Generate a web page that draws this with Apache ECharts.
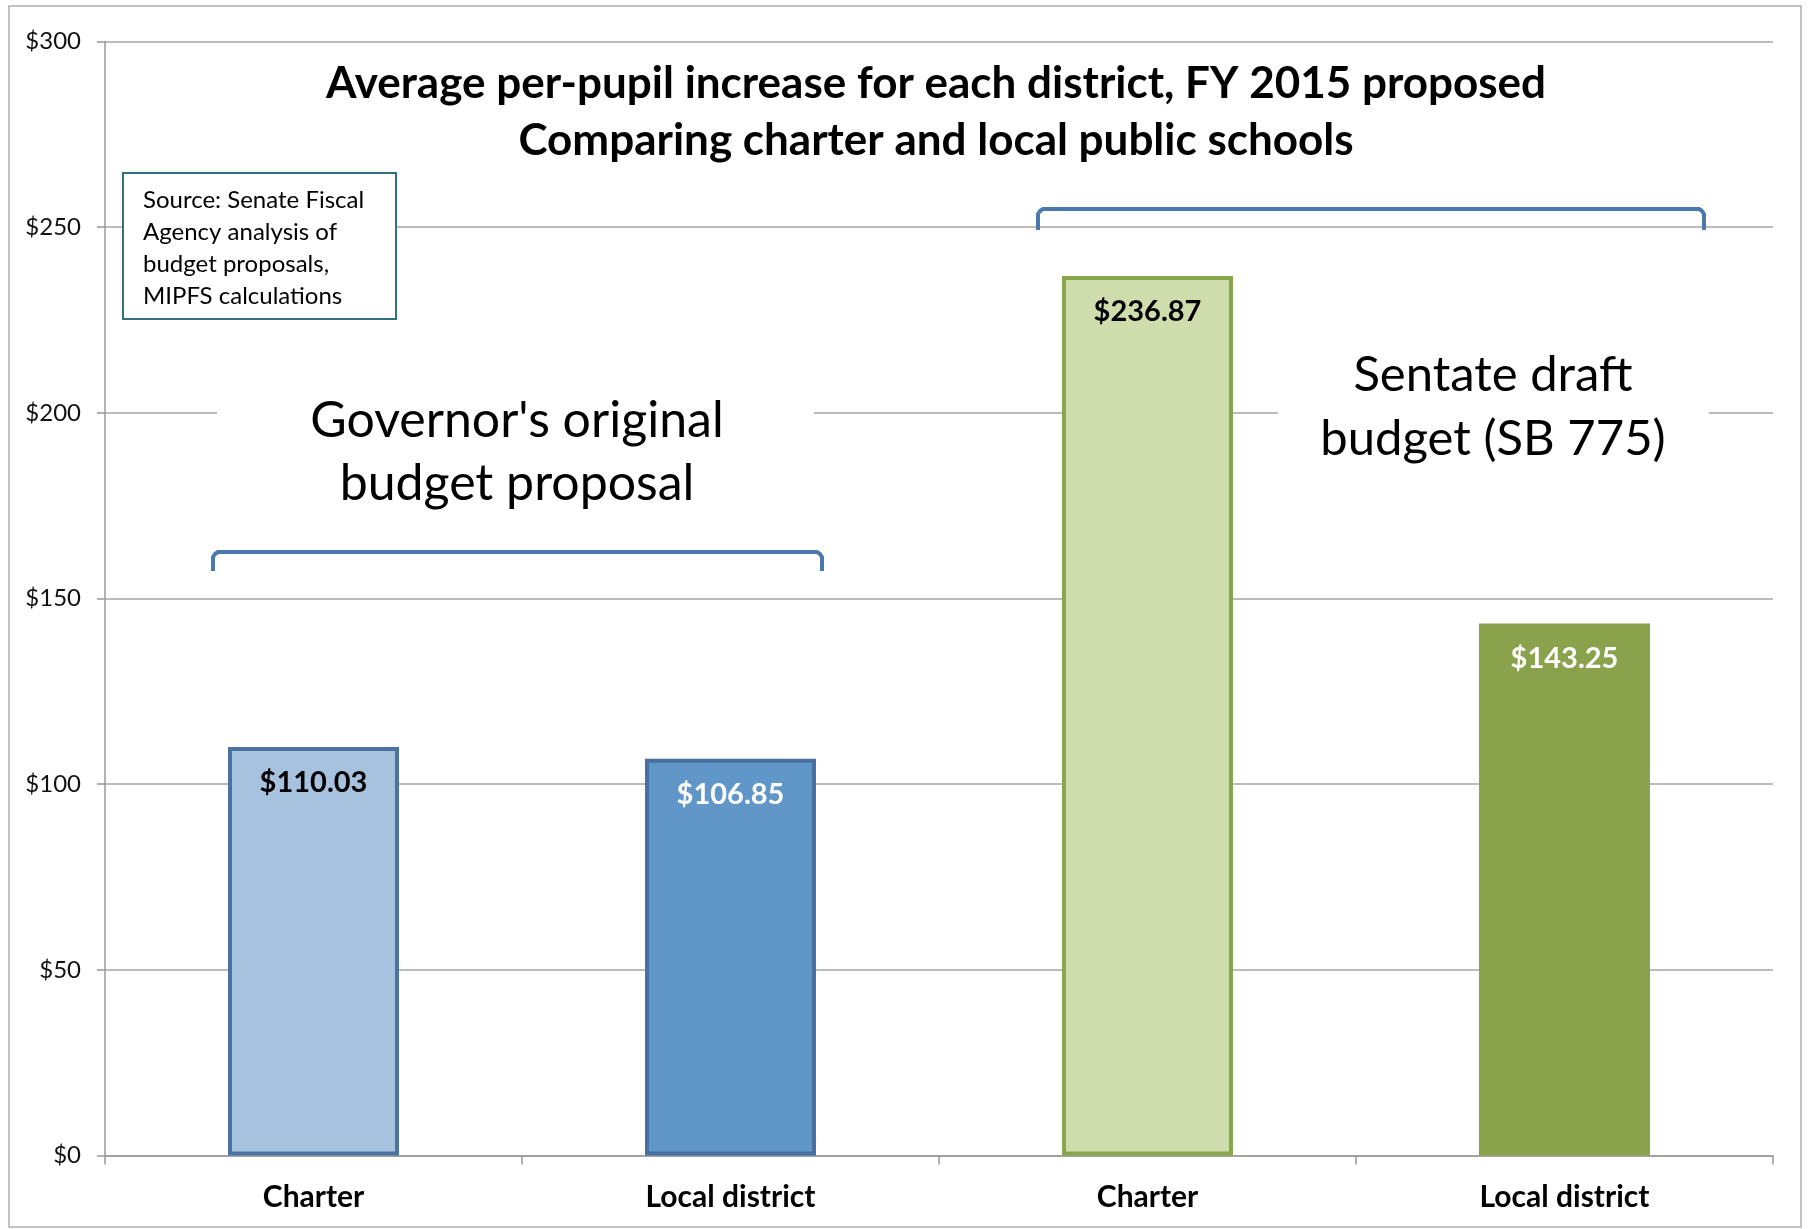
<!DOCTYPE html>
<html>
<head>
<meta charset="utf-8">
<script src="https://cdn.jsdelivr.net/npm/echarts@6/dist/echarts.min.js"></script>
<style>
  html, body { margin: 0; padding: 0; background: #fff; }
  #main { width: 1808px; height: 1229px; }
</style>
</head>
<body>
<div id="main"></div>
<script>
var categories = ["Charter", "Local district", "Charter", "Local district"];
var increases = [110.03, 106.85, 236.87, 143.25];
var yTicks = [0, 50, 100, 150, 200, 250, 300];

// bar colours (fill / outline), one per bar
var barFills = ["#a7c2df", "#6196c8", "#cfddac", "#8aa24c"];
var barBorders = ["#4a73a2", "#4671a1", "#8aa64c", "#8aa24c"];
var labelColors = ["#000", "#fff", "#000", "#fff"];

var chartDom = document.getElementById("main");
var myChart = echarts.init(chartDom);
var font = "Lato, 'Open Sans', sans-serif";

// bracket outline with small rounded-ish corners
function bracket(x0, x1, top, bottom) {
  return [[x0, bottom], [x0, top + 5], [x0 + 2, top + 2], [x0 + 5, top],
          [x1 - 5, top], [x1 - 2, top + 2], [x1, top + 5], [x1, bottom]];
}

var option = {
  animation: false,
  grid: { left: 105, right: 35, top: 41.5, bottom: 73.5 },
  xAxis: {
    type: "category",
    data: categories,
    axisLine: { lineStyle: { color: "#999", width: 1.5 } },
    axisTick: { show: true, length: 9, lineStyle: { color: "#999", width: 1.5 } },
    axisLabel: {
      margin: 27,
      fontFamily: font,
      fontWeight: "bold",
      fontSize: 30,
      color: "#000",
    },
  },
  yAxis: {
    type: "value",
    min: yTicks[0],
    max: yTicks[yTicks.length - 1],
    interval: 50,
    axisLine: { show: true, lineStyle: { color: "#999", width: 1.5 } },
    axisTick: { show: true, length: 8, lineStyle: { color: "#999", width: 1.5 } },
    splitLine: { lineStyle: { color: "#a6a6a6", width: 1.5 } },
    axisLabel: {
      margin: 24,
      fontFamily: font,
      fontSize: 24,
      color: "#111",
      formatter: function (v) { return "$" + v; },
    },
  },
  series: [
    {
      type: "bar",
      barWidth: "41%",
      data: increases.map(function (v, i) {
        return {
          value: v,
          itemStyle: {
            color: barFills[i],
            borderColor: barBorders[i],
            borderWidth: 4,
          },
          label: { color: labelColors[i] },
        };
      }),
      label: {
        show: true,
        position: "insideTop",
        distance: 21,
        fontFamily: font,
        fontWeight: "bold",
        fontSize: 29,
        formatter: function (p) { return "$" + p.value.toFixed(2); },
      },
    },
  ],
  graphic: [
    // outer chart border
    {
      type: "rect",
      shape: { x: 9, y: 6, width: 1792, height: 1221 },
      style: { fill: null, stroke: "#b0b0b0", lineWidth: 1.5 },
      silent: true,
      z: 0,
    },
    // title
    {
      type: "text",
      x: 936,
      y: 112,
      style: {
        text: "Average per-pupil increase for each district, FY 2015 proposed\nComparing charter and local public schools",
        font: "bold 44px " + font,
        fill: "#000",
        align: "center",
        verticalAlign: "middle",
        lineHeight: 57,
      },
      z: 100,
    },
    // source box
    {
      type: "rect",
      shape: { x: 123, y: 173, width: 273, height: 146 },
      style: { fill: "#fff", stroke: "#31707f", lineWidth: 2 },
      z: 100,
    },
    {
      type: "text",
      x: 143,
      y: 184,
      style: {
        text: "Source: Senate Fiscal\nAgency analysis of\nbudget proposals,\nMIPFS calculations",
        font: "24px " + font,
        fill: "#000",
        lineHeight: 32,
        verticalAlign: "top",
      },
      z: 101,
    },
    // annotation boxes
    {
      type: "rect",
      shape: { x: 217, y: 360, width: 597, height: 160 },
      style: { fill: "#fff" },
      z: 100,
    },
    {
      type: "text",
      x: 517,
      y: 452,
      style: {
        text: "Governor's original\nbudget proposal",
        font: "50px " + font,
        fill: "#000",
        align: "center",
        verticalAlign: "middle",
        lineHeight: 63,
      },
      z: 101,
    },
    {
      type: "rect",
      shape: { x: 1278, y: 320, width: 431, height: 160 },
      style: { fill: "#fff" },
      z: 100,
    },
    {
      type: "text",
      x: 1493,
      y: 407,
      style: {
        text: "Sentate draft\nbudget (SB 775)",
        font: "49px " + font,
        fill: "#000",
        align: "center",
        verticalAlign: "middle",
        lineHeight: 64,
      },
      z: 101,
    },
    // brackets
    {
      type: "polyline",
      shape: { points: bracket(213, 822, 552, 571) },
      style: { fill: null, stroke: "#4a79ae", lineWidth: 4, lineJoin: "round" },
      z: 100,
    },
    {
      type: "polyline",
      shape: { points: bracket(1038, 1704, 209, 230) },
      style: { fill: null, stroke: "#4a79ae", lineWidth: 4, lineJoin: "round" },
      z: 100,
    },
  ],
};

option && myChart.setOption(option);
</script>
</body>
</html>
